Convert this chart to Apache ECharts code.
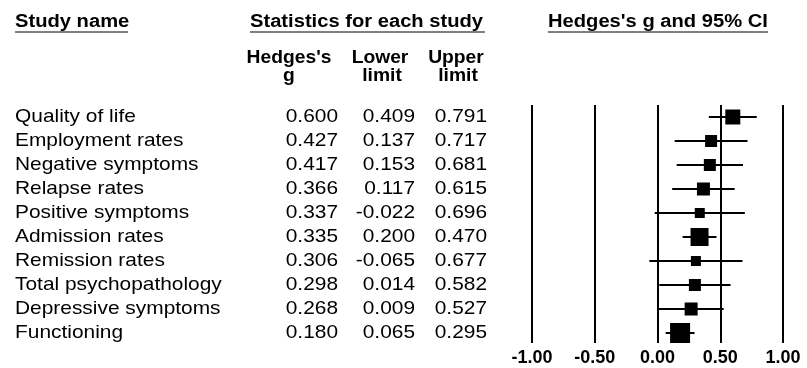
<!DOCTYPE html>
<html>
<head>
<meta charset="utf-8">
<script src="https://cdn.jsdelivr.net/npm/echarts@6/dist/echarts.min.js"></script>
<style>
html,body{margin:0;padding:0;background:#fff;}
#chart{width:807px;height:368px;}
</style>
</head>
<body>
<div id="chart"></div>
<script>
const studies = ["Quality of life","Employment rates","Negative symptoms","Relapse rates","Positive symptoms","Admission rates","Remission rates","Total psychopathology","Depressive symptoms","Functioning"];
const hedgesG = [0.600,0.427,0.417,0.366,0.337,0.335,0.306,0.298,0.268,0.180];
const lowerLimit = [0.409,0.137,0.153,0.117,-0.022,0.200,-0.065,0.014,0.009,0.065];
const upperLimit = [0.791,0.717,0.681,0.615,0.696,0.470,0.677,0.582,0.527,0.295];
const weights = [15,12,12,13,10,18,10,12,13,20];
const xTicks = [-1,-0.5,0,0.5,1];

const FONT = '"Liberation Sans", Arial, sans-serif';
const SX = 1.1;
const HSX = 1.12;
const FS = 19;
const HFS = 18;

const chart = echarts.init(document.getElementById('chart'), null, {renderer:'canvas'});

function fmt(v){ return v.toFixed(3); }

function txt(text, x, y, align, bold, size, sx){
  return {
    type:'text', x:x, y:y, scaleX:sx,
    style:{text:text, x:0, y:0, textAlign:align, textVerticalAlign:'middle', verticalAlign:'middle',
      font:(bold?'bold ':'')+size+'px '+FONT, fill:'#000'}
  };
}
function uline(x1,x2,y){
  return {type:'line', shape:{x1:x1,y1:y,x2:x2,y2:y}, style:{stroke:'#808080', lineWidth:2}};
}

const option = {
  animation:false,
  backgroundColor:'#fff',
  grid:{left:532, width:251, top:105, bottom:25},
  xAxis:{
    type:'value', min:xTicks[0], max:xTicks[xTicks.length-1], interval:0.5,
    axisLine:{show:false}, axisTick:{show:false},
    splitLine:{show:true, lineStyle:{color:'#000', width:2}},
    axisLabel:{formatter:v=>v.toFixed(2), fontWeight:'bold', fontSize:18, color:'#000', fontFamily:FONT, margin:6}
  },
  yAxis:{type:'value', min:-0.5, max:9.4167, inverse:true, show:false, splitLine:{show:false}},
  graphic:[
    txt('Study name', 15, 22, 'left', true, HFS, HSX),
    uline(15,128,32),
    txt('Statistics for each study', 250, 22, 'left', true, HFS, HSX),
    uline(250,485,32),
    txt("Hedges's g and 95% CI", 548, 22, 'left', true, HFS, HSX),
    uline(548,768,32),
    txt("Hedges's", 289, 58, 'center', true, HFS, 1.07),
    txt('g', 289, 76, 'center', true, HFS, 1.07),
    txt('Lower', 380, 58, 'center', true, HFS, 1.07),
    txt('limit', 382, 76, 'center', true, HFS, 1.07),
    txt('Upper', 456, 58, 'center', true, HFS, 1.07),
    txt('limit', 458, 76, 'center', true, HFS, 1.07)
  ],
  series:[
    {
      type:'custom', name:'ci',
      data: hedgesG.map((g,i)=>[lowerLimit[i], upperLimit[i], i]),
      encode:{x:[0,1], y:2},
      renderItem:function(params, api){
        const p1 = api.coord([api.value(0), api.value(2)]);
        const p2 = api.coord([api.value(1), api.value(2)]);
        return {type:'line', shape:{x1:p1[0],y1:p1[1],x2:p2[0],y2:p2[1]}, style:{stroke:'#000', lineWidth:2}};
      },
      z:3
    },
    {
      type:'scatter', name:'g',
      data: hedgesG.map((g,i)=>[g,i,weights[i]]),
      symbol:'rect',
      symbolSize:function(d){ return d[2]; },
      itemStyle:{color:'#000', opacity:1},
      z:4
    },
    {
      type:'custom', name:'table', clip:false,
      data: studies.map((s,i)=>[0,i]),
      encode:{x:0, y:1},
      renderItem:function(params, api){
        const i = api.value(1);
        const y = api.coord([0,i])[1];
        return {type:'group', children:[
          txt(studies[i], 15, y, 'left', false, FS, SX),
          txt(fmt(hedgesG[i]), 338, y, 'right', false, FS, SX),
          txt(fmt(lowerLimit[i]), 415, y, 'right', false, FS, SX),
          txt(fmt(upperLimit[i]), 487, y, 'right', false, FS, SX)
        ]};
      },
      z:2
    }
  ]
};
chart.setOption(option);
</script>
</body>
</html>
